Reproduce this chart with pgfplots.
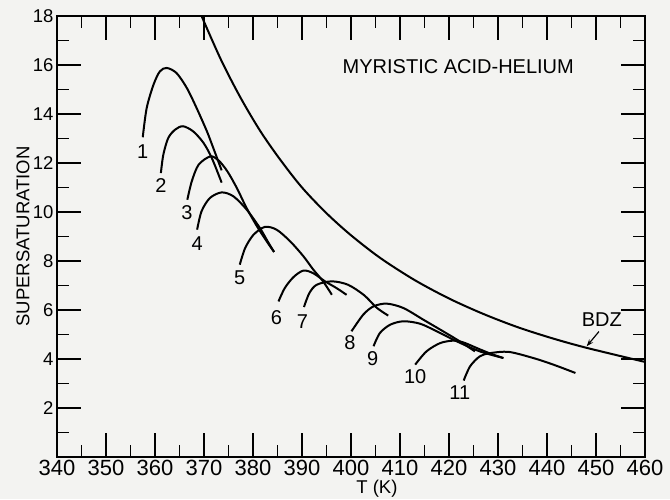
\documentclass[border=0pt]{standalone}
\usepackage{pgfplots}
\pgfplotsset{compat=1.18}
\usepackage{fontspec}
\setmainfont{Liberation Sans}
\usetikzlibrary{arrows.meta}
\definecolor{paper}{RGB}{243,243,241}
\pgfplotsset{cv/.style={black, line width=2pt, smooth, mark=none, solid}}
\begin{document}
\begin{tikzpicture}
\fill[paper] (-57pt,-42pt) rectangle (613pt,457pt);
\begin{axis}[
  scale only axis, width=588pt, height=441pt,
  xmin=340, xmax=460, ymin=0, ymax=18,
  xtick={340,350,...,460}, minor xtick={345,355,...,455},
  ytick={2,4,...,18}, minor ytick={1,3,...,17},
  tick align=inside, major tick length=24pt, minor tick length=12pt,
  axis line style={line width=2pt, black},
  tick style={line width=1.6pt, black},
  /pgf/number format/assume math mode=true,
  /pgf/number format/1000 sep={},
  xticklabel style={font=\fontsize{22}{22}\selectfont, inner sep=2.5pt},
  yticklabel style={font=\fontsize{18.5}{18.5}\selectfont},
  xlabel={T (K)}, ylabel={SUPERSATURATION},
  every axis x label/.style={at={(axis description cs:0.544,-0.0715)}, anchor=center, inner sep=0pt, font=\fontsize{18.5}{18.5}\selectfont},
  every axis y label/.style={at={(axis description cs:-0.058,0.5)}, anchor=center, rotate=90, font=\fontsize{18.5}{18.5}\selectfont},
  clip=false,
]
% BDZ
\addplot[cv] coordinates {
(369.5,18.0) (373.5,16.2) (377.5,14.65) (381.5,13.3) (385.5,12.15) (390,11.0) (395,9.95) (400,9.05)
(406,8.12) (413,7.22) (420,6.47) (427,5.84) (434,5.3) (441,4.85) (448,4.46) (460,3.88)};
% 1
\addplot[cv] coordinates {
(357.5,13.05) (358.3,14.24) (359.7,15.2) (361.0,15.74) (362.4,15.88) (364.4,15.67) (366.5,15.06) (368.5,14.24) (370.6,13.29) (371.9,12.61) (373.6,11.7)};
% 2
\addplot[cv] coordinates {
(361.2,11.59) (361.7,12.34) (362.7,13.02) (364.1,13.36) (365.7,13.5) (367.8,13.29) (369.9,12.82) (371.6,12.2) (373.6,11.2)};
% 3
\addplot[cv] coordinates {
(366.6,10.5) (367.5,11.25) (368.9,11.93) (371.3,12.27) (373.0,12.1) (374.8,11.65) (376.7,10.98) (378.7,10.16) (380.8,9.42) (382.8,8.8) (384.3,8.37)};
% 4
\addplot[cv] coordinates {
(368.6,9.28) (369.5,10.03) (371.2,10.57) (373.6,10.8) (376.0,10.64) (378.7,10.1) (381.4,9.35) (383.0,8.8) (384.3,8.37)};
% 5
\addplot[cv] coordinates {
(377.3,7.85) (378.4,8.53) (380.1,9.07) (382.4,9.39) (384.8,9.28) (387.6,8.8) (390.3,8.19) (392.3,7.65) (394.3,7.17) (396.1,6.62)};
% 6
\addplot[cv] coordinates {
(385.2,6.35) (386.5,6.9) (388.3,7.35) (390.3,7.61) (392.3,7.5) (394.7,7.17) (397.0,6.9) (399.1,6.62)};
% 7
\addplot[cv] coordinates {
(390.4,6.12) (391.5,6.69) (393.0,7.03) (396.1,7.17) (399.4,7.03) (402.7,6.6) (405.2,6.1) (407.6,5.77)};
% 8
\addplot[cv] coordinates {
(400.1,5.13) (402.5,5.81) (404.6,6.15) (407.3,6.26) (410.7,6.08) (414.8,5.6) (418.8,5.13) (422.2,4.72) (425.3,4.31)};
% 9
\addplot[cv] coordinates {
(404.6,4.52) (405.9,5.06) (408.0,5.4) (410.7,5.54) (414.1,5.44) (417.5,5.13) (421.6,4.72) (426.3,4.31) (431.1,4.04)};
% 10
\addplot[cv] coordinates {
(413.1,3.77) (415.4,4.31) (418.2,4.65) (420.9,4.75) (422.9,4.68) (426.0,4.42) (428.7,4.2) (431.1,4.04)};
% 11
\addplot[cv] coordinates {
(423.0,3.12) (424.3,3.7) (426.3,4.11) (428.4,4.24) (432.2,4.29) (437.2,4.04) (441.3,3.77) (445.8,3.43)};
% labels
\begin{scope}[every node/.style={font=\fontsize{20}{20}\selectfont, inner sep=0pt}]
\node at (axis cs:357.5,12.48) {1};
\node at (axis cs:361.2,11.1) {2};
\node at (axis cs:366.5,9.96) {3};
\node at (axis cs:368.6,8.69) {4};
\node at (axis cs:377.3,7.31) {5};
\node at (axis cs:384.8,5.67) {6};
\node at (axis cs:390.1,5.54) {7};
\node at (axis cs:399.8,4.65) {8};
\node at (axis cs:404.4,4.0) {9};
\node at (axis cs:413.1,3.29) {10};
\node at (axis cs:422.2,2.61) {11};
\node at (axis cs:451.2,5.6) {BDZ};
\end{scope}
\draw[line width=1.2pt, -{Stealth[length=7pt,width=5pt]}] (axis cs:450.6,5.12) -- (axis cs:448.1,4.52);
\node[font=\fontsize{20}{20}\selectfont, inner sep=0pt] at (axis cs:421.9,15.95) {MYRISTIC ACID-HELIUM};
\end{axis}
\pgfresetboundingbox
\path (-57pt,-42pt) rectangle (613pt,457pt);
\end{tikzpicture}
\end{document}
